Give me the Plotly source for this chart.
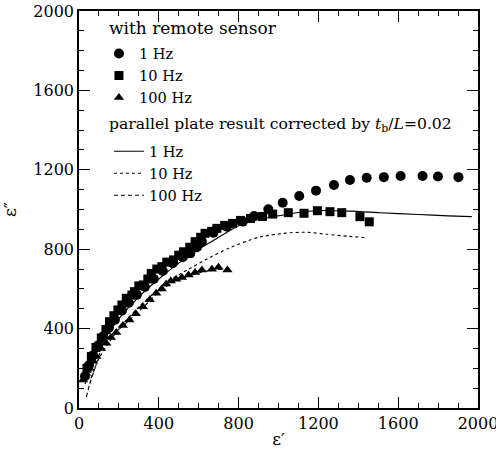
import plotly.graph_objects as go

# ---- data ----
# remote sensor, 1 Hz (circles)
c1_x = [30, 50, 70, 95, 120, 150, 180, 215, 250, 290, 330, 375, 420, 470, 520, 558, 591, 616, 674, 741,
        821, 878, 949, 1021, 1104, 1188, 1278, 1358, 1442, 1528, 1612, 1722, 1799, 1902]
c1_y = [160, 215, 265, 315, 360, 405, 445, 490, 530, 570, 610, 650, 690, 730, 760, 779, 810, 838, 883, 913,
        939, 967, 1001, 1034, 1068, 1095, 1123, 1149, 1160, 1163, 1169, 1169, 1166, 1163]

# remote sensor, 10 Hz (squares)
s10_x = [40, 62, 85, 112, 135, 153, 175, 195, 215, 237, 265, 278, 300, 323, 345, 362, 390, 415, 440, 474,
         500, 524, 555, 582, 610, 632, 665, 691, 730, 770, 810, 860, 920, 971, 1049, 1128, 1195, 1258, 1317,
         1408, 1455]
s10_y = [200, 259, 305, 353, 395, 435, 465, 494, 519, 553, 569, 586, 615, 620, 650, 678, 700, 712, 735, 746,
         770, 787, 810, 838, 860, 880, 890, 905, 920, 930, 945, 955, 965, 977, 984, 981, 994, 989, 984,
         964, 938]

# remote sensor, 100 Hz (triangles)
t100_x = [20, 35, 53, 70, 87, 110, 137, 160, 187, 220, 253, 285, 320, 355, 387, 415, 437, 460, 487, 516,
          549, 582, 616, 666, 699, 744]
t100_y = [141, 175, 200, 235, 260, 300, 326, 355, 380, 415, 443, 475, 510, 545, 578, 600, 625, 640, 648, 658,
          670, 682, 695, 699, 709, 695]

# parallel plate result, 1 Hz (solid)
p1_x = [30, 60, 100, 150, 200, 300, 400, 500, 600, 700, 807, 900, 974, 1100, 1191, 1358, 1508, 1700, 1850, 1969]
p1_y = [120, 220, 300, 380, 450, 560, 650, 730, 800, 860, 922, 950, 964, 985, 994, 992, 984, 975, 968, 964]

# parallel plate result, 10 Hz (dotted)
p10_x = [60, 100, 150, 200, 300, 400, 458, 550, 633, 750, 899, 1058, 1150, 1241, 1350, 1442]
p10_y = [150, 250, 330, 400, 510, 600, 645, 700, 746, 805, 860, 883, 885, 875, 865, 858]

# parallel plate result, 100 Hz (dashed)
p100_x = [37, 52, 77, 110, 150, 200, 260, 330, 400, 480, 560, 640, 720]
p100_y = [55, 116, 192, 290, 345, 395, 450, 515, 585, 640, 668, 690, 700]

x_ticks = [0, 400, 800, 1200, 1600, 2000]
y_ticks = [0, 400, 800, 1200, 1600, 2000]

legend_title_1 = "with remote sensor"
legend_title_2 = "parallel plate result corrected by <i>t</i><sub>b</sub>/<i>L</i>=0.02"

FONT = "DejaVu Serif"

fig = go.Figure()

line_style = dict(color="black", width=1.1, shape="spline", smoothing=0.6)
fig.add_trace(go.Scatter(x=p1_x, y=p1_y, mode="lines", name="1 Hz",
                         line=dict(**line_style, dash="solid"), legend="legend2"))
fig.add_trace(go.Scatter(x=p10_x, y=p10_y, mode="lines", name="10 Hz",
                         line=dict(**line_style, dash="dot"), legend="legend2"))
fig.add_trace(go.Scatter(x=p100_x, y=p100_y, mode="lines", name="100 Hz",
                         line=dict(**line_style, dash="4px,3px"), legend="legend2"))

fig.add_trace(go.Scatter(x=c1_x, y=c1_y, mode="markers", name="1 Hz",
                         marker=dict(symbol="circle", size=10, color="black"), legend="legend"))
fig.add_trace(go.Scatter(x=s10_x, y=s10_y, mode="markers", name="10 Hz",
                         marker=dict(symbol="square", size=9, color="black"), legend="legend"))
fig.add_trace(go.Scatter(x=t100_x, y=t100_y, mode="markers", name="100 Hz",
                         marker=dict(symbol="triangle-up", size=9, color="black"), legend="legend"))

axis_common = dict(
    showgrid=False, zeroline=False, showline=True, linecolor="black", linewidth=1.5,
    mirror="ticks", ticks="inside", ticklen=11, tickwidth=1.3, tickcolor="black",
    tickfont=dict(family=FONT, size=16, color="black"), ticklabeloverflow="allow",
    minor=dict(ticks="inside", ticklen=5, tickwidth=1, tickcolor="black"),
)

legend_common = dict(
    xanchor="left", yanchor="top", bgcolor="rgba(0,0,0,0)", borderwidth=0,
    font=dict(family=FONT, size=14.6, color="black"), tracegroupgap=0, itemwidth=30,
)

fig.update_layout(
    width=496, height=453,
    margin=dict(l=79, r=18, t=11, b=45, autoexpand=False),
    paper_bgcolor="white", plot_bgcolor="white",
    font=dict(family=FONT, size=17, color="black"),
    xaxis=dict(range=[0, 2000], tickvals=x_ticks, ticktext=[str(v) for v in x_ticks],
               title=dict(text="ε′", font=dict(family=FONT, size=17), standoff=1),
               **axis_common),
    yaxis=dict(range=[0, 2000], tickvals=y_ticks, ticktext=[str(v) for v in y_ticks],
               title=dict(text="ε″", font=dict(family=FONT, size=17), standoff=12),
               **axis_common),
    legend=dict(x=0.05, y=0.933, **legend_common),
    legend2=dict(x=0.075, y=0.687, **legend_common),
    showlegend=True,
    annotations=[
        dict(text=legend_title_1, xref="paper", yref="paper", x=0.07, y=0.957,
             xanchor="left", yanchor="middle", showarrow=False,
             font=dict(family=FONT, size=17, color="black")),
        dict(text=legend_title_2, xref="paper", yref="paper", x=0.07, y=0.713,
             xanchor="left", yanchor="middle", showarrow=False,
             font=dict(family=FONT, size=15.6, color="black")),
    ],
)

fig.write_html("out.html", config={"displayModeBar": False},
               post_script="document.body.style.margin='0';")
